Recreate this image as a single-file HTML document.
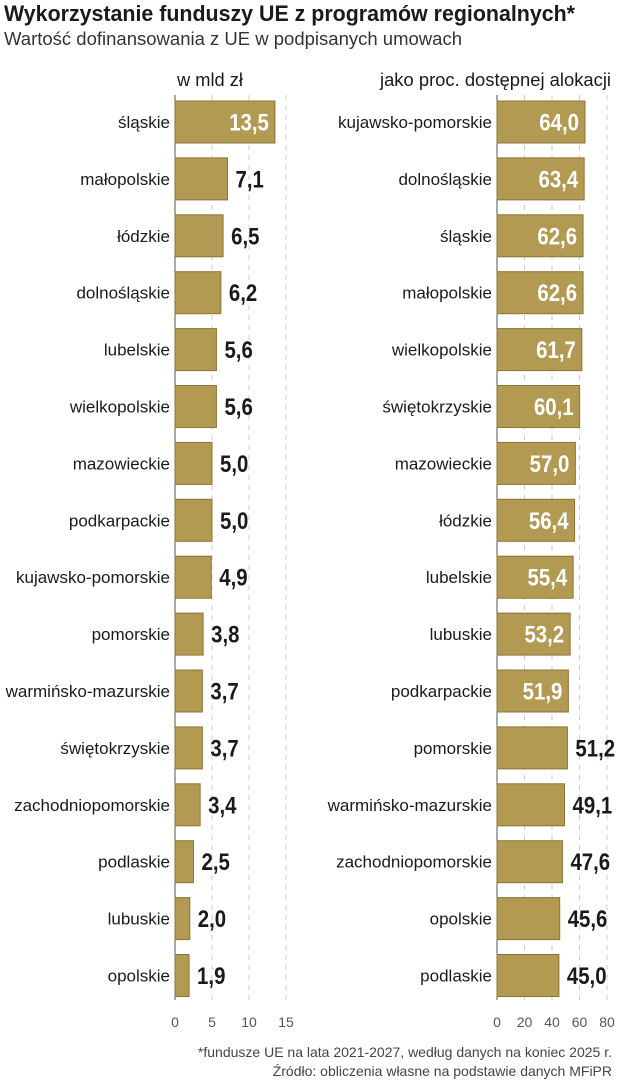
<!DOCTYPE html>
<html><head><meta charset="utf-8">
<style>
html,body{margin:0;padding:0;background:#fff;width:621px;height:1080px;overflow:hidden}
text{font-family:"Liberation Sans Narrow","Liberation Sans",sans-serif}
</style></head>
<body>
<svg id="chart" width="621" height="1080" xmlns="http://www.w3.org/2000/svg">
<text x="4" y="21" font-size="22" font-weight="bold" fill="#1a1a1a" textLength="571" lengthAdjust="spacingAndGlyphs">Wykorzystanie funduszy UE z programów regionalnych*</text>
<text x="4" y="45" font-size="18" fill="#333" textLength="458" lengthAdjust="spacingAndGlyphs">Wartość dofinansowania z UE w podpisanych umowach</text>
<text x="177" y="86" font-size="18" fill="#1a1a1a" textLength="66" lengthAdjust="spacingAndGlyphs">w mld zł</text>
<text x="380" y="86" font-size="18" fill="#1a1a1a" textLength="231" lengthAdjust="spacingAndGlyphs">jako proc. dostępnej alokacji</text>
<g id="left"></g>
<g id="right"></g>
<text x="612" y="1057" font-size="14" fill="#444" text-anchor="end">*fundusze UE na lata 2021-2027, według danych na koniec 2025 r.</text>
<text x="612" y="1076" font-size="14" fill="#444" text-anchor="end">Źródło: obliczenia własne na podstawie danych MFiPR</text>
</svg>
<script>
const leftCategories=["śląskie","małopolskie","łódzkie","dolnośląskie","lubelskie","wielkopolskie","mazowieckie","podkarpackie","kujawsko-pomorskie","pomorskie","warmińsko-mazurskie","świętokrzyskie","zachodniopomorskie","podlaskie","lubuskie","opolskie"];
const leftValues=[13.5,7.1,6.5,6.2,5.6,5.6,5.0,5.0,4.9,3.8,3.7,3.7,3.4,2.5,2.0,1.9];
const leftTicks=[0,5,10,15];
const rightCategories=["kujawsko-pomorskie","dolnośląskie","śląskie","małopolskie","wielkopolskie","świętokrzyskie","mazowieckie","łódzkie","lubelskie","lubuskie","podkarpackie","pomorskie","warmińsko-mazurskie","zachodniopomorskie","opolskie","podlaskie"];
const rightValues=[64.0,63.4,62.6,62.6,61.7,60.1,57.0,56.4,55.4,53.2,51.9,51.2,49.1,47.6,45.6,45.0];
const rightTicks=[0,20,40,60,80];

const NS="http://www.w3.org/2000/svg";
function mk(tag,attrs,parent){const e=document.createElementNS(NS,tag);for(const k in attrs)e.setAttribute(k,attrs[k]);parent.appendChild(e);return e;}
const rowY=i=>122+i*56.9;
function panel(g,cats,vals,ticks,x0,scale,inside,prefix){
  const xs=v=>x0+v*scale;
  ticks.forEach((t,i)=>{
    if(i>0){const l=mk('line',{x1:xs(t),x2:xs(t),y1:95,y2:1000,stroke:'#ccc','stroke-dasharray':'5,5','stroke-width':1},g);
    
    }
    const tx=mk('text',{x:xs(t),y:1027,'font-size':14,fill:'#555','text-anchor':'middle'},g);
    tx.textContent=t;
    
    
  });
  const ax=mk('line',{x1:x0,x2:x0,y1:95,y2:1000,stroke:'#555','stroke-width':1},g);
  
  
  cats.forEach((c,i)=>{
    const y=rowY(i),v=vals[i];
    const r=mk('rect',{x:x0,y:y-21,width:xs(v)-x0,height:42,fill:'#b39a52',stroke:'#8c7436','stroke-width':1},g);
    
    
    const lb=mk('text',{x:x0-5,y:y+6,'font-size':17,fill:'#1a1a1a','text-anchor':'end'},g);
    lb.textContent=c;
    
    
    const s=v.toFixed(1).replace('.',',');
    const inn=v>=inside;
    const tx=inn?xs(v)-6:xs(v)+8;
    const vl=mk('text',{x:0,y:0,'font-size':24,'font-weight':'bold',fill:inn?'#fff':'#1a1a1a','text-anchor':inn?'end':'start',transform:'translate('+tx+','+(y+8.5)+') scale(0.85,1)'},g);
    vl.textContent=s;
    
    
  });
}
panel(document.getElementById('left'),leftCategories,leftValues,leftTicks,175,7.4,10,'left');
panel(document.getElementById('right'),rightCategories,rightValues,rightTicks,497,1.375,51.5,'right');
</script>
</body></html>
